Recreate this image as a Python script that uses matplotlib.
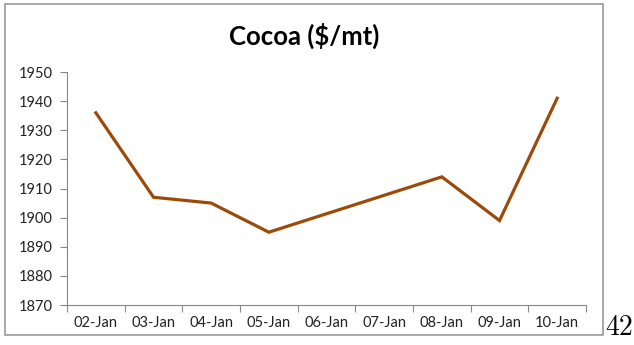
import matplotlib.pyplot as plt
from matplotlib.patches import Rectangle

# Data
dates = ["02-Jan", "03-Jan", "04-Jan", "05-Jan", "06-Jan", "07-Jan", "08-Jan", "09-Jan", "10-Jan"]
prices = [1936, 1907, 1905, 1895, None, None, 1914, 1899, 1941]
y_ticks = [1870, 1880, 1890, 1900, 1910, 1920, 1930, 1940, 1950]

plt.rcParams['font.family'] = ['Lato', 'DejaVu Sans']

fig = plt.figure(figsize=(6.34, 3.45), dpi=100)
ax = fig.add_axes([0.1057, 0.1159, 0.8186, 0.6754])

# missing days are skipped and the line connects across them
xs = [i for i, v in enumerate(prices) if v is not None]
ys = [v for v in prices if v is not None]
ax.plot(xs, ys, color='#9C4A0A', linewidth=2.3, solid_joinstyle='miter')

ax.set_xlim(-0.5, len(dates) - 0.5)
ax.set_ylim(1870, 1950)
ax.set_yticks(y_ticks)
ax.set_yticklabels([str(t) for t in y_ticks], fontsize=10.5, color='#222222')

# category boundaries as ticks, labels centred on categories
ax.set_xticks([i - 0.5 for i in range(len(dates) + 1)])
ax.set_xticklabels([])
ax.set_xticks(range(len(dates)), minor=True)
ax.set_xticklabels(dates, minor=True, fontsize=10.5, color='#222222')
ax.tick_params(axis='x', which='minor', length=0, pad=8)
ax.tick_params(axis='x', which='major', length=5, color='#888888', direction='out')
ax.tick_params(axis='y', length=5, color='#888888', pad=5)

for side in ['top', 'right']:
    ax.spines[side].set_visible(False)
for side in ['left', 'bottom']:
    ax.spines[side].set_color('#888888')

fig.text(0.48, 0.895, r"Cocoa (\$/mt)", ha='center', va='center',
         fontsize=18.5, fontweight='bold', color='black')

# chart border
fig.patches.append(Rectangle((5 / 634, 1 - 335 / 345), 598 / 634, 331 / 345,
                             transform=fig.transFigure, fill=False,
                             edgecolor='#999999', linewidth=1.2))

# page number
fig.text(0.998, 0.03, "42", ha='right', va='baseline', fontsize=20, family='cmr10')

fig.savefig("out.png", dpi=100)
